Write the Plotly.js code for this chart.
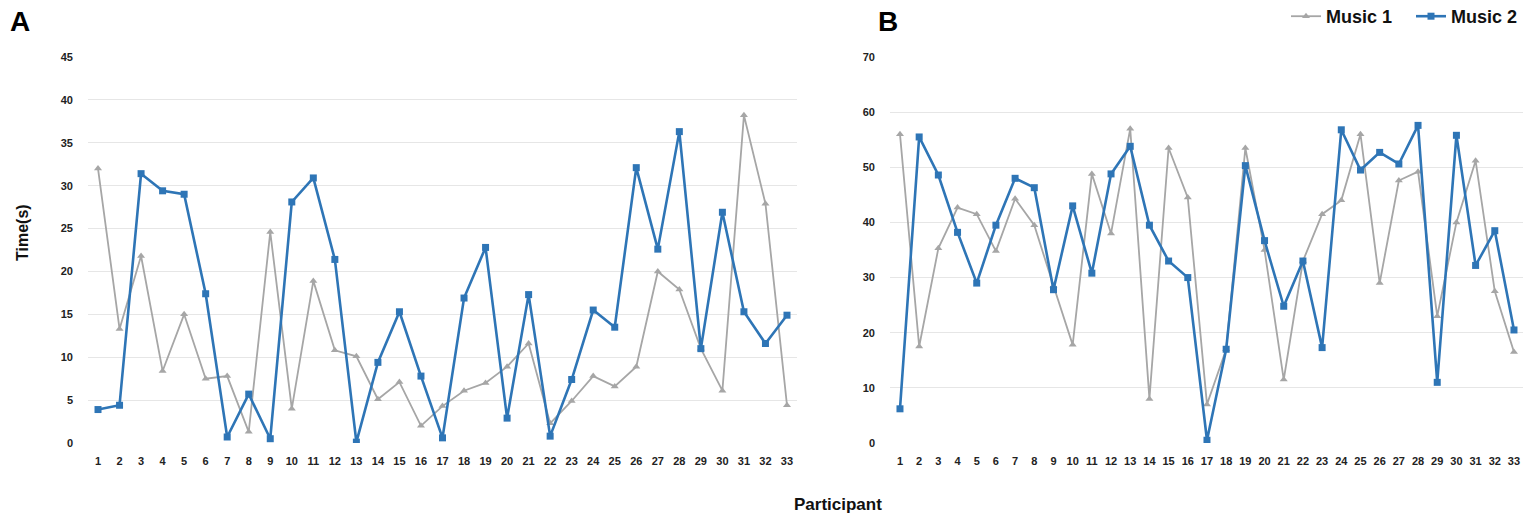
<!DOCTYPE html>
<html><head><meta charset="utf-8">
<script src="https://cdn.plot.ly/plotly-3.0.1.min.js"></script>
<style>html,body{margin:0;padding:0;background:#fff}#c{width:1536px;height:521px}</style>
</head><body><div id="c"></div>
<script>
const participants = Array.from({length:33},(_,i)=>i+1);
const musicA1 = [32,13.3,21.8,8.4,15,7.5,7.8,1.3,24.6,4,18.9,10.8,10.1,5.1,7.1,2,4.3,6.1,7,8.9,11.6,2.3,4.9,7.8,6.6,8.9,20,17.9,11,6.1,38.2,27.9,4.4];
const musicA2 = [3.9,4.4,31.4,29.4,29,17.4,0.7,5.7,0.5,28.1,30.9,21.4,0.1,9.4,15.3,7.8,0.6,16.9,22.8,2.9,17.3,0.8,7.4,15.5,13.5,32.1,22.6,36.3,11,26.9,15.3,11.6,14.9];
const musicB1 = [56,17.5,35.3,42.7,41.5,34.8,44.3,39.5,28.5,17.8,48.8,38,57,8,53.5,44.5,7,17,53.5,35,11.5,33,41.5,44,56,29,47.6,49.2,23,40,51.2,27.5,16.5];
const musicB2 = [6.2,55.5,48.6,38.2,29,39.5,48,46.3,27.8,43,30.8,48.8,53.8,39.5,33,30,0.5,17,50.3,36.7,24.8,33,17.3,56.8,49.5,52.7,50.6,57.6,11,55.8,32.2,38.5,20.5];
const seriesNames = ['Music 1','Music 2'];

const gray = '#a6a6a6', blue = '#2e75b6';
const FONT = 'Liberation Sans, Arial, sans-serif';
function tr(y, name, xa, ya, isBlue, show){
  return {x: participants, y: y, name: name, type:'scatter', mode:'lines+markers',
    xaxis: xa, yaxis: ya, showlegend: show,
    line:{color: isBlue?blue:gray, width: isBlue?2.6:1.8},
    marker:{symbol: isBlue?'square':'triangle-up', size: isBlue?7:7, color: isBlue?blue:gray}};
}
const data = [
  tr(musicA1, seriesNames[0], 'x', 'y', false, true),
  tr(musicA2, seriesNames[1], 'x', 'y', true, true),
  tr(musicB1, seriesNames[0], 'x2', 'y2', false, false),
  tr(musicB2, seriesNames[1], 'x2', 'y2', true, false)
];
const tickFont = {family: FONT, size:11, color:'#222', weight:'bold'};
const xCommon = {tickmode:'array', tickvals: participants, ticktext: participants.map(String),
  showgrid:false, zeroline:false, showline:false, ticks:'', tickfont: tickFont, ticklabelstandoff: 10, fixedrange:true, automargin:false};
const yCommon = {showgrid:true, gridcolor:'#e6e6e6', gridwidth:1, zeroline:false, showline:false, ticks:'',
  tickfont: tickFont, ticklabelstandoff: 14, fixedrange:true, automargin:false};
const layout = {
  width:1536, height:521, margin:{l:0,r:0,t:0,b:0, autoexpand:false}, paper_bgcolor:'#fff', plot_bgcolor:'#fff',
  showlegend:true,
  legend:{orientation:'h', x:1, xanchor:'right', y:1+2/521, yanchor:'top',
    font:{family: FONT, size:18, color:'#111', weight:'bold'}, itemwidth:30, entrywidth:80, tracegroupgap:0},
  xaxis: Object.assign({}, xCommon, {domain:[88/1536, 797/1536], range:[0.535, 33.465], anchor:'y'}),
  yaxis: Object.assign({}, yCommon, {domain:[1-443/521, 1-57/521], range:[0,45], dtick:5, tick0:0, anchor:'x'}),
  xaxis2: Object.assign({}, xCommon, {domain:[890/1536, 1523/1536], range:[0.48, 33.47], anchor:'y2'}),
  yaxis2: Object.assign({}, yCommon, {domain:[1-443/521, 1-57/521], range:[0,70], dtick:10, tick0:0, anchor:'x2'}),
  annotations:[
    {text:'<b>A</b>', xref:'paper', yref:'paper', x:8/1536, y:1-4/521, xanchor:'left', yanchor:'top', showarrow:false,
      font:{family: FONT, size:28, color:'#000'}},
    {text:'<b>B</b>', xref:'paper', yref:'paper', x:876/1536, y:1-4/521, xanchor:'left', yanchor:'top', showarrow:false,
      font:{family: FONT, size:28, color:'#000'}},
    {text:'<b>Time(s)</b>', xref:'paper', yref:'paper', x:22/1536, y:1-233/521, xanchor:'center', yanchor:'middle', textangle:-90, showarrow:false,
      font:{family: FONT, size:16, color:'#111'}},
    {text:'<b>Participant</b>', xref:'paper', yref:'paper', x:838/1536, y:1-504/521, xanchor:'center', yanchor:'middle', showarrow:false,
      font:{family: FONT, size:17, color:'#111'}}
  ]
};
Plotly.newPlot('c', data, layout, {staticPlot:true, displayModeBar:false});
</script></body></html>
